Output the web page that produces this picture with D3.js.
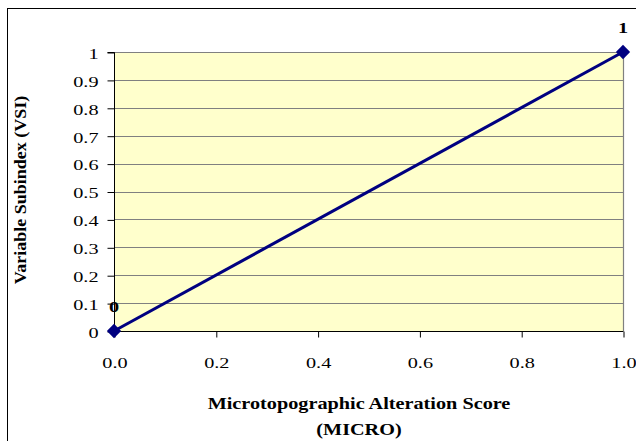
<!DOCTYPE html>
<html><head><meta charset="utf-8">
<script src="https://cdn.jsdelivr.net/npm/d3@7"></script>
<style>body{margin:0;background:#fff}svg{display:block}</style>
</head><body>
<script>
const xValues = [0.0, 1.0];
const yValues = [0, 1];
const pointLabels = ["0", "1"];
const xTicks = [0.0, 0.2, 0.4, 0.6, 0.8, 1.0];
const yTicks = [0, 0.1, 0.2, 0.3, 0.4, 0.5, 0.6, 0.7, 0.8, 0.9, 1];
const xTitle = ["Microtopographic Alteration Score", "(MICRO)"];
const yTitle = "Variable Subindex (VSI)";

const W = 636, H = 441;
const m = {left: 114, top: 52, right: 623, bottom: 331};
const font = "'Liberation Serif', 'Times New Roman', serif";
const SX = 1.35; // horizontal stretch of glyphs seen in the reference

const svg = d3.select("body").append("svg").attr("width", W).attr("height", H);
svg.append("rect").attr("x", 0).attr("y", 0).attr("width", W).attr("height", H).attr("fill", "#fff");
svg.append("rect").attr("x", 7.5).attr("y", 8.5).attr("width", W).attr("height", H)
  .attr("fill", "none").attr("stroke", "#000").attr("stroke-width", 1);

const x = d3.scaleLinear().domain([0, 1]).range([m.left, m.right]);
const y = d3.scaleLinear().domain([0, 1]).range([m.bottom, m.top]);

svg.append("rect").attr("x", m.left).attr("y", m.top)
  .attr("width", m.right - m.left).attr("height", m.bottom - m.top).attr("fill", "#FFFFCC");

// gridlines
svg.append("g").selectAll("line").data(yTicks.filter(d => d > 0)).join("line")
  .attr("x1", m.left).attr("x2", m.right)
  .attr("y1", d => Math.round(y(d)) + 0.5).attr("y2", d => Math.round(y(d)) + 0.5)
  .attr("stroke", "#808080").attr("stroke-width", 1.2);
svg.append("line").attr("x1", m.right + 0.5).attr("x2", m.right + 0.5)
  .attr("y1", m.top).attr("y2", m.bottom).attr("stroke", "#808080").attr("stroke-width", 1.2);

// y axis
const yAxis = d3.axisLeft(y).tickValues(yTicks).tickSize(7).tickFormat(d3.format("~g"));
const gy = svg.append("g").attr("transform", `translate(${m.left + 0.5},0.5)`).call(yAxis);
gy.selectAll(".domain").attr("stroke", "#000").attr("d", `M-7,${y(1)}H0V${y(0)}`);
gy.selectAll("line").attr("stroke", "#000");
gy.selectAll("text").attr("font-family", font).attr("font-size", 15).attr("fill", "#000")
  .attr("x", 0).attr("transform", `translate(-16,1) scale(${SX},1)`);

// x axis
const xAxis = d3.axisBottom(x).tickValues(xTicks).tickSize(6).tickFormat(d3.format(".1f"));
const gx = svg.append("g").attr("transform", `translate(0.5,${m.bottom + 0.5})`).call(xAxis);
gx.selectAll(".domain").attr("stroke", "#000").attr("d", `M${x(0)},0H${x(1)}`);
gx.selectAll("line").attr("stroke", "#000");
gx.selectAll("text").attr("font-family", font).attr("font-size", 15).attr("fill", "#000")
  .attr("y", 0).attr("dy", null).attr("transform", `translate(0,36) scale(${SX},1)`);

// line
const pts = xValues.map((v, i) => [v, yValues[i]]);
svg.append("path").datum(pts)
  .attr("d", d3.line().x(d => x(d[0])).y(d => y(d[1])))
  .attr("stroke", "#000080").attr("stroke-width", 3).attr("fill", "none");
svg.append("g").selectAll("path").data(pts).join("path")
  .attr("d", d3.symbol().type(d3.symbolDiamond2 || d3.symbolDiamond).size(130))
  .attr("transform", d => `translate(${x(d[0])},${y(d[1])})`)
  .attr("fill", "#000080");
svg.append("g").selectAll("text").data(pts).join("text")
  .attr("transform", d => `translate(${x(d[0])},${y(d[1]) - 19}) scale(${SX},1)`)
  .attr("text-anchor", "middle")
  .attr("font-family", font).attr("font-weight", "bold").attr("font-size", 15)
  .text((d, i) => pointLabels[i]);

// titles
svg.append("text").attr("transform", `translate(26,190) rotate(-90) scale(1.2,1.12)`)
  .attr("text-anchor", "middle").attr("font-family", font).attr("font-weight", "bold")
  .attr("font-size", 15).text(yTitle);
svg.append("g").selectAll("text").data(xTitle).join("text")
  .attr("transform", (d, i) => `translate(359,${409 + i * 26}) scale(${SX},1.05)`)
  .attr("text-anchor", "middle").attr("font-family", font).attr("font-weight", "bold")
  .attr("font-size", 15).text(d => d);
</script>
</body></html>
